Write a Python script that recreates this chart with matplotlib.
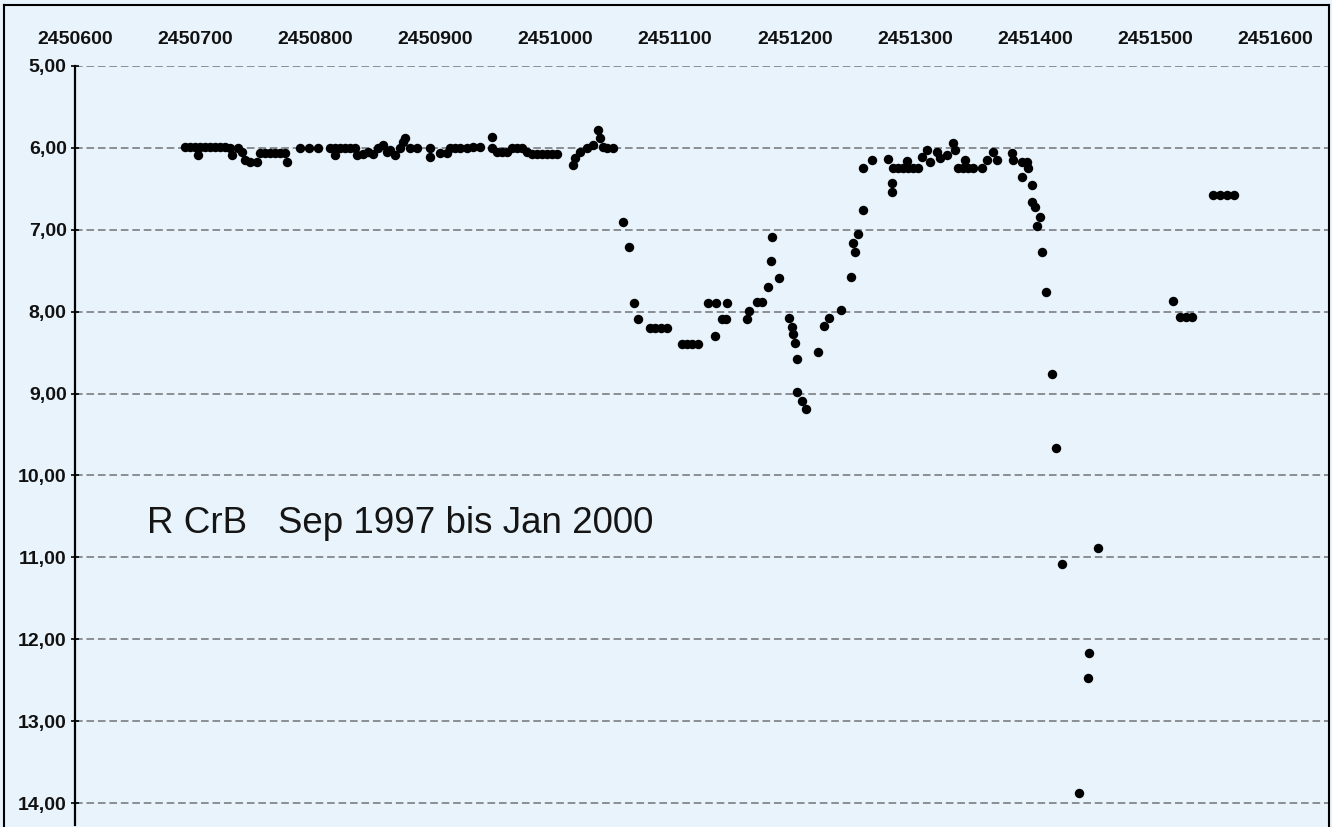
import numpy as np
import matplotlib
matplotlib.use("Agg")
import matplotlib.pyplot as plt
from matplotlib.lines import Line2D
from matplotlib.ticker import FuncFormatter, MultipleLocator

plt.rcParams['font.family'] = ['Liberation Sans', 'DejaVu Sans']

JD0 = 2450000

# julian day - 2450000 and visual magnitude
jd_max1 = [692, 696, 700, 702.5, 704, 708, 712.5, 717, 721, 725, 729, 730.5, 736,
           739, 742, 746, 752, 754, 758, 762.5, 767, 771, 775, 777,
           787.5, 795, 802.5,
           812.5, 817, 817, 821, 825, 829, 833, 835, 840, 844, 848, 852.5, 857, 860, 862.5,
           867, 871, 873, 875, 879, 885, 896, 896, 904, 910, 912.5, 917, 921, 927, 932,
           937.5, 947.5, 947.5, 951.7, 956, 960, 964, 968, 972.5, 977,
           981, 985, 989, 993, 997.5, 1001.7,
           1015, 1016.7, 1020.8, 1026.7, 1031.7, 1035.8, 1037.5, 1040, 1043, 1048]
mag_max1 = [5.99, 5.99, 5.99, 6.09, 5.99, 5.99, 5.99, 5.99, 5.99, 5.99, 6.0, 6.09, 6.0,
            6.05, 6.15, 6.17, 6.17, 6.06, 6.06, 6.06, 6.06, 6.06, 6.06, 6.17,
            6.0, 6.0, 6.0,
            6.0, 6.0, 6.09, 6.0, 6.0, 6.0, 6.0, 6.09, 6.07, 6.05, 6.07, 6.0, 5.96, 6.05, 6.03,
            6.09, 6.0, 5.93, 5.88, 6.0, 6.0, 6.0, 6.11, 6.06, 6.06, 6.0, 6.0, 6.0, 6.0, 5.99,
            5.99, 5.87, 6.0, 6.05, 6.05, 6.05, 6.0, 6.0, 6.0, 6.05,
            6.07, 6.07, 6.07, 6.07, 6.07, 6.07,
            6.21, 6.12, 6.05, 6.0, 5.96, 5.78, 5.88, 5.99, 6.0, 6.0]

jd_fade1 = [1056.7, 1061.7, 1065.8, 1069, 1079, 1083, 1088, 1093, 1105.8, 1110, 1114, 1119,
            1127.5, 1134, 1143, 1133, 1139, 1142.5, 1160, 1161.7, 1168, 1172.5, 1177.5,
            1180, 1181, 1186.7, 1195, 1197.5, 1198, 1200, 1201.7, 1201.7, 1205.8, 1209,
            1219, 1224, 1228, 1238, 1246.7, 1248, 1250, 1252.5, 1256.7]
mag_fade1 = [6.90, 7.21, 7.89, 8.09, 8.2, 8.2, 8.2, 8.2, 8.39, 8.39, 8.39, 8.39,
             7.89, 7.89, 7.89, 8.30, 8.09, 8.09, 8.09, 7.99, 7.88, 7.88, 7.70,
             7.38, 7.09, 7.59, 8.08, 8.19, 8.27, 8.38, 8.58, 8.98, 9.09, 9.19,
             8.49, 8.17, 8.08, 7.98, 7.58, 7.16, 7.27, 7.05, 6.76]

jd_max2 = [1256.7, 1264, 1277.5, 1281, 1281, 1281.7, 1286, 1290, 1293, 1294, 1298, 1302.5,
           1306, 1310, 1312.5, 1318, 1321, 1326.7, 1331.7, 1333, 1336, 1340, 1341.7, 1344,
           1348, 1356, 1360, 1365, 1368, 1381, 1381.7, 1389, 1389, 1393, 1394]
mag_max2 = [6.25, 6.15, 6.14, 6.43, 6.54, 6.25, 6.25, 6.25, 6.16, 6.25, 6.25, 6.25,
            6.11, 6.03, 6.17, 6.05, 6.12, 6.09, 5.94, 6.03, 6.25, 6.25, 6.15, 6.25,
            6.25, 6.25, 6.15, 6.05, 6.15, 6.06, 6.15, 6.17, 6.36, 6.17, 6.25]

jd_fade2 = [1397.5, 1397.5, 1400, 1404, 1401.7, 1406, 1409, 1414, 1417.5, 1422.5,
            1436.7, 1444, 1445, 1452.5,
            1515, 1521, 1526, 1531, 1548, 1554, 1560, 1566]
mag_fade2 = [6.45, 6.66, 6.72, 6.84, 6.95, 7.27, 7.76, 8.76, 9.66, 11.08,
             13.88, 12.47, 12.17, 10.89,
             7.87, 8.07, 8.07, 8.07, 6.58, 6.58, 6.58, 6.58]

jd = np.array(jd_max1 + jd_fade1 + jd_max2 + jd_fade2) + JD0
mag = np.array(mag_max1 + mag_fade1 + mag_max2 + mag_fade2)

x_ticks = np.arange(2450600, 2451601, 100)
y_ticks = np.arange(5, 15, 1)

bg = '#e8f3fc'
fig = plt.figure(figsize=(13.32, 8.27), dpi=100, facecolor=bg)
ax = fig.add_axes([75 / 1332, 2 / 827, 1253 / 1332, 759 / 827])
ax.set_facecolor(bg)

for yv in y_ticks:
    ax.axhline(yv, color='#4a4a4a', lw=1.1, ls=(0, (5, 2.5)), alpha=0.75, zorder=1)

ax.plot(jd, mag, 'o', color='black', markersize=6.8, markeredgewidth=0, zorder=3)

ax.set_xlim(2450600, 2450600 + 1253 / 1.2)
ax.set_ylim(5 + 759 / 81.9, 5.0)

ax.set_xticks(x_ticks)
ax.xaxis.tick_top()
ax.tick_params(axis='x', length=0, pad=13, labelsize=14)
ax.set_xticklabels([str(v) for v in x_ticks], fontweight='bold', color='#111111')

ax.yaxis.set_major_locator(MultipleLocator(1))
ax.yaxis.set_major_formatter(FuncFormatter(lambda v, p: f"{v:.2f}".replace('.', ',')))
ax.tick_params(axis='y', length=6, width=1.2, direction='inout', pad=3, labelsize=14)
for lab in ax.get_yticklabels():
    lab.set_fontweight('bold')
    lab.set_color('#111111')

for s in ['top', 'right', 'bottom']:
    ax.spines[s].set_visible(False)
ax.spines['left'].set_linewidth(1.6)

ax.text(2450660, 10.58, "R CrB   Sep 1997 bis Jan 2000", fontsize=26.5,
        va='center', ha='left', color='#151515')

# scan frame
for xs, ys in [([0.003, 0.003], [0, 0.994]), ([0.003, 0.998], [0.994, 0.994]),
               ([0.998, 0.998], [0, 0.994])]:
    fig.add_artist(Line2D(xs, ys, color='black', lw=1.5, transform=fig.transFigure))

fig.savefig('out.png', dpi=100, facecolor=bg)
